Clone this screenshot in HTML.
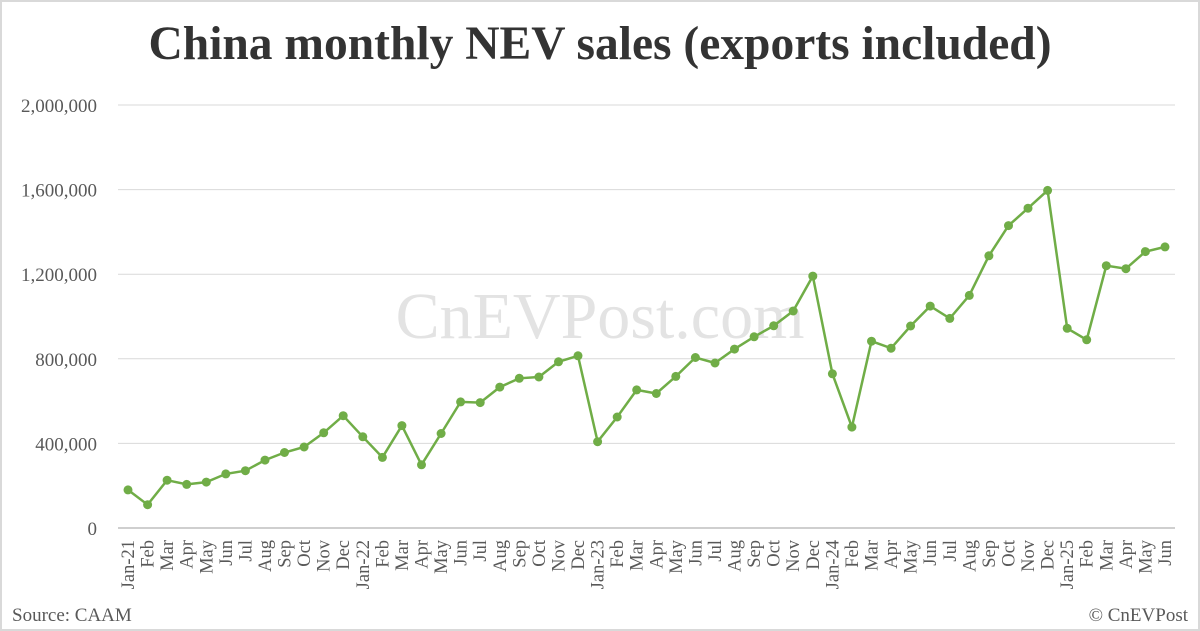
<!DOCTYPE html>
<html><head><meta charset="utf-8"><style>
html,body{margin:0;padding:0;background:#fff}
svg{display:block}
</style></head><body>
<svg id="c" width="1200" height="631" xmlns="http://www.w3.org/2000/svg" font-family="Liberation Serif, serif">
<rect x="1" y="1" width="1198" height="629" fill="#fff" stroke="#d9d9d9" stroke-width="2"/>
<text x="600" y="59" text-anchor="middle" font-size="47.5" font-weight="bold" fill="#333">China monthly NEV sales (exports included)</text>
<text x="600" y="338" text-anchor="middle" font-size="66" fill="#e3e3e3">CnEVPost.com</text>
<g id="grid"></g>
<g id="series"></g>
<text x="12" y="621" font-size="19" fill="#595959">Source: CAAM</text>
<text x="1188" y="621" text-anchor="end" font-size="19" fill="#595959">© CnEVPost</text>
</svg>
<script>
var v=[180,110,226,206,217,256,271,321,357,383,450,531,431,334,484,299,447,596,593,666,708,714,786,814,408,525,653,636,717,806,780,846,904,956,1026,1191,729,477,883,850,955,1049,991,1100,1287,1430,1512,1596,944,890,1240,1226,1307,1329];
var m=["Jan","Feb","Mar","Apr","May","Jun","Jul","Aug","Sep","Oct","Nov","Dec"];
var ns="http://www.w3.org/2000/svg";
function el(t,a,p,txt){var e=document.createElementNS(ns,t);for(var k in a)e.setAttribute(k,a[k]);if(txt)e.textContent=txt;p.appendChild(e);return e;}
var g=document.getElementById("grid"),s=document.getElementById("series");
function Y(val){return 528-val*1000/2000000*423;}
for(var i=0;i<=5;i++){var y=528-i*84.6;
el("line",{x1:118,x2:1175,y1:y,y2:y,stroke:i==0?"#bfbfbf":"#d9d9d9","stroke-width":i==0?1.5:1},g);
el("text",{x:97,y:y+7,"text-anchor":"end","font-size":19,fill:"#595959"},g,(i*400000).toLocaleString("en-US"));}
var pts=[];
for(var i=0;i<v.length;i++){var x=128+i*(1165-128)/53;pts.push(x.toFixed(1)+","+Y(v[i]).toFixed(1));
var lab=(i%12==0)?m[0]+"-"+(21+i/12):m[i%12];
el("text",{transform:"translate("+(x+6)+",540) rotate(-90)","text-anchor":"end","font-size":18.5,fill:"#595959"},g,lab);}
el("polyline",{points:pts.join(" "),fill:"none",stroke:"#70ad47","stroke-width":2.5},s);
pts.forEach(function(p){var q=p.split(",");el("circle",{cx:q[0],cy:q[1],r:4.5,fill:"#70ad47"},s);});
</script>
</body></html>
